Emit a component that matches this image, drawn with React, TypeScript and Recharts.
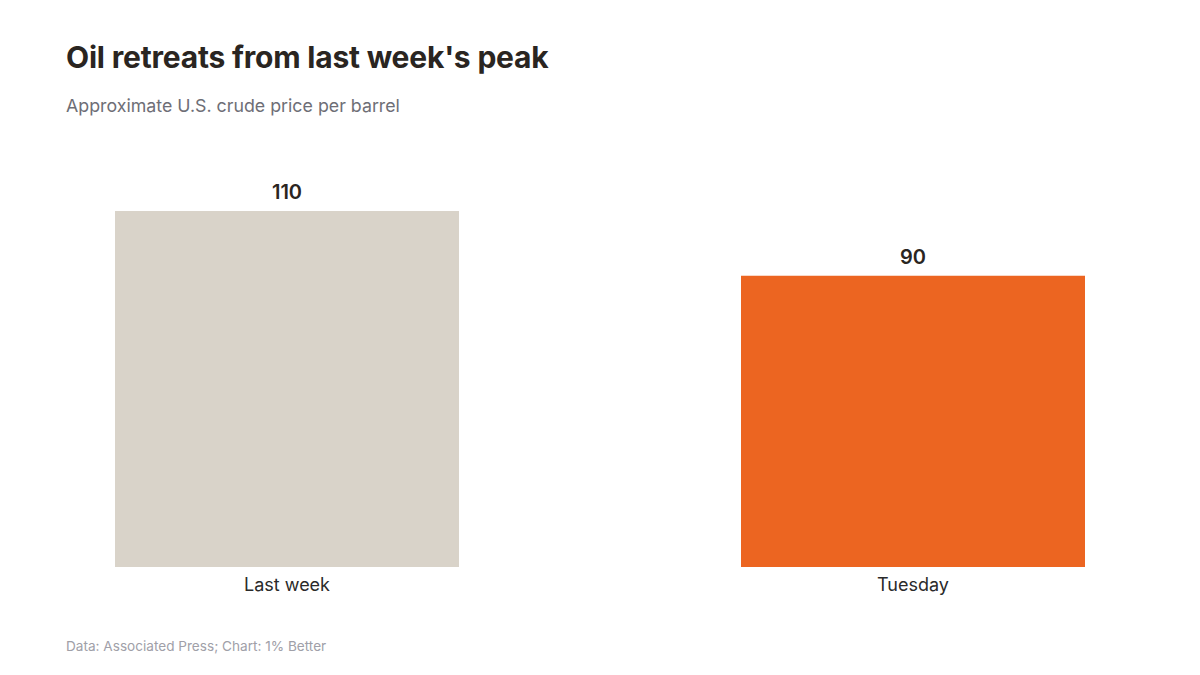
import { Bar, BarChart, Cell, LabelList, XAxis, YAxis } from "recharts";

const categories = ["Last week", "Tuesday"];
const prices = [110, 90];
const barColors = ["#D9D3C9", "#EC6521"];

const data = categories.map((name, i) => ({ name, price: prices[i], color: barColors[i] }));

const font = "Inter, 'DejaVu Sans', sans-serif";

export default function App() {
  return (
    <div style={{ position: "fixed", left: 0, top: 0, width: 1200, height: 675, overflow: "hidden", background: "#fff", fontFamily: font }}>
      <div style={{ position: "absolute", left: 66, top: 39, fontSize: 30, fontWeight: 700, color: "#2A2521", letterSpacing: -0.2, whiteSpace: "nowrap" }}>
        Oil retreats from last week's peak
      </div>
      <div style={{ position: "absolute", left: 66, top: 95, fontSize: 17.8, color: "#6E6E76", whiteSpace: "nowrap" }}>
        Approximate U.S. crude price per barrel
      </div>
      <div style={{ position: "absolute", left: -26, top: 150 }}>
        <BarChart width={1252} height={450} data={data} margin={{ top: 61, right: 0, left: 0, bottom: 0 }}>
          <XAxis
            dataKey="name"
            height={33}
            axisLine={false}
            tickLine={false}
            tickSize={0}
            tickMargin={11}
            tick={{ fontSize: 18, fill: "#2A2A2A", fontFamily: font }}
          />
          <YAxis hide domain={[0, 110]} />
          <Bar dataKey="price" barSize={344} isAnimationActive={false}>
            {data.map((d) => (
              <Cell key={d.name} fill={d.color} />
            ))}
            <LabelList dataKey="price" position="top" offset={12} style={{ fontSize: 20, fontWeight: 600, fill: "#2A2521", fontFamily: font }} />
          </Bar>
        </BarChart>
      </div>
      <div style={{ position: "absolute", left: 66, top: 638, fontSize: 13.6, color: "#A0A0A8", whiteSpace: "nowrap" }}>
        Data: Associated Press; Chart: 1% Better
      </div>
    </div>
  );
}
